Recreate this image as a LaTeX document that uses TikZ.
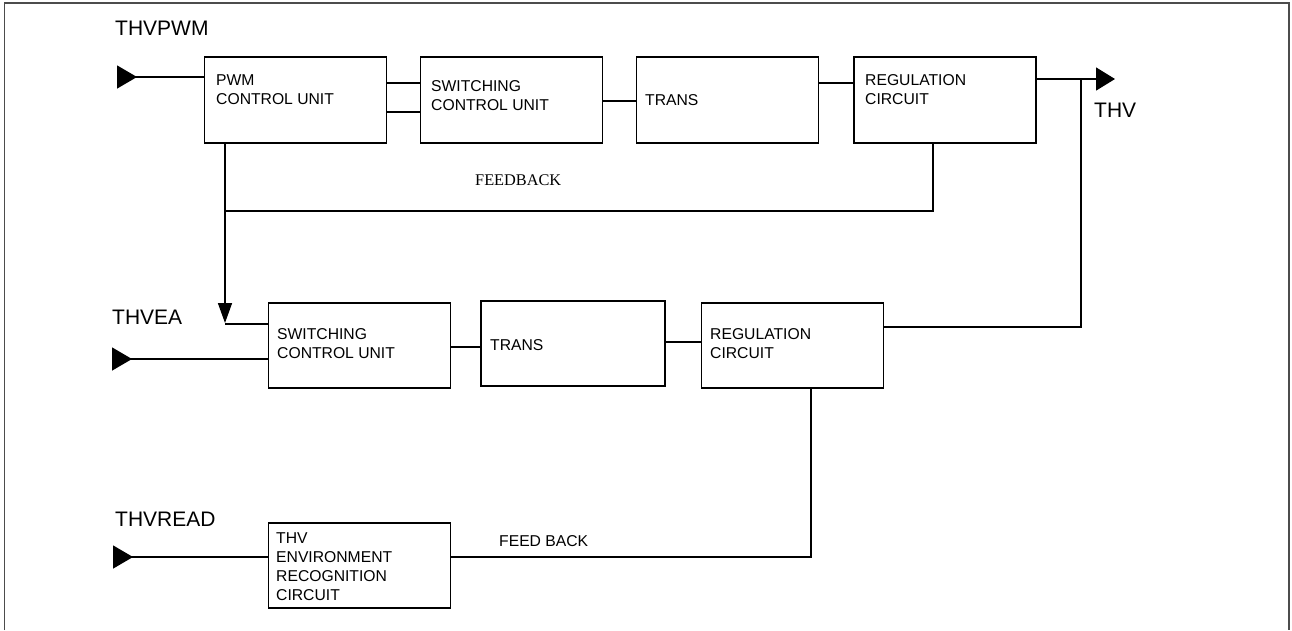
\documentclass[tikz,border=0pt]{standalone}
\usepackage{fontspec}
\setmainfont{Liberation Sans}
\newfontfamily\serifrm{Liberation Serif}
\usetikzlibrary{arrows.meta,
                calc,
                positioning}

\begin{document}
\begin{tikzpicture}[
        x=1pt, y=-1pt,
        block/.style={rectangle, draw=black, line width=1.5pt, minimum width=182pt, minimum height=86pt, inner sep=0pt},
        txt/.style={anchor=north west, inner sep=0pt, align=left, font=\fontsize{15.7}{19}\selectfont},
        sig/.style={anchor=north west, inner sep=0pt, font=\fontsize{21}{25}\selectfont},
        wire/.style={draw=black, line width=1.5pt},
        inarrow/.style={wire, {Triangle[reversed, length=20pt, width=23pt]}-},
        outarrow/.style={wire, -{Triangle[length=19pt, width=23pt]}},
        downarrow/.style={wire, -{Triangle[length=20pt, width=14pt]}}
        ]
        \useasboundingbox (0,0) rectangle (1292,630);
        % frame
        \draw [gray!60!black, line width=1.3pt] (4.5,630) -- (4.5,3) -- (1289,3) -- (1289,630);

        % upper chain
        \node (node1) [block] at (295.5,100)  {};
        \node (node2) [block] at (511.5,100)  {};
        \node (node3) [block] at (727.5,100)  {};
        \node (node4) [block] at (945,100)    {};
        % lower chain
        \node (node5) [block, minimum height=85pt] at (359.5,345.5) {};
        \node (node6) [block, minimum height=85pt, minimum width=184pt] at (573,343.5) {};
        \node (node7) [block, minimum height=85pt] at (792.5,345.5) {};
        \node (node8) [block, minimum height=85pt] at (359.5,565.5) {};

        \node (node1t) [txt] at (216,74)  {PWM\\CONTROL UNIT};
        \node (node2t) [txt] at (431,80)  {SWITCHING\\CONTROL UNIT};
        \node (node3t) [txt] at (645,94)  {TRANS};
        \node (node4t) [txt] at (865,74)  {REGULATION\\CIRCUIT};
        \node (node5t) [txt] at (277,328) {SWITCHING\\CONTROL UNIT};
        \node (node6t) [txt] at (490,339) {TRANS};
        \node (node7t) [txt] at (710,328) {REGULATION\\CIRCUIT};
        \node (node8t) [txt] at (276,532) {THV\\ENVIRONMENT\\RECOGNITION\\CIRCUIT};

        \node (thvpwm)  [sig] at (115,21)   {THVPWM};
        \node (thvout)  [sig] at (1094,103) {THV};
        \node (thvea)   [sig] at (112,310)  {THVEA};
        \node (thvread) [sig] at (115,512)  {THVREAD};
        \node (fb1) [anchor=north west, inner sep=0pt, font=\serifrm\fontsize{16.3}{19}\selectfont] at (475,175) {FEEDBACK};
        \node (fb2) [txt] at (499,535) {FEED BACK};

        \coordinate (in1)  at (117,77);
        \coordinate (in2)  at (112,359);
        \coordinate (in3)  at (113,557);
        \coordinate (thv)  at (1115,79);
        \coordinate (jn)   at (1081,79);
        \coordinate (fbr)  at (933,211);
        \coordinate (fbl)  at (225,211);
        \coordinate (tip)  at (225,323);
        \coordinate (back) at (811,557);

        % inputs
        \draw [inarrow] (in1) -- (in1 -| node1.west);
        \draw [inarrow] (in2) -- (in2 -| node5.west);
        \draw [inarrow] (in3) -- (in3 -| node8.west);

        % upper links
        \draw [wire] (node1.east |- 0,83)  -- (node2.west |- 0,83);
        \draw [wire] (node1.east |- 0,112) -- (node2.west |- 0,112);
        \draw [wire] (node2.east |- 0,101) -- (node3.west |- 0,101);
        \draw [wire] (node3.east |- 0,83)  -- (node4.west |- 0,83);
        \draw [outarrow] (node4.east |- thv) -- (thv);

        % feedback of upper chain
        \draw [wire] (node4.south -| fbr) -- (fbr) -- (fbl);
        \draw [downarrow] (node1.south -| fbl) -- (tip);
        \draw [wire] ([yshift=-1pt]tip) -- ([yshift=-1pt]tip -| node5.west);

        % lower links
        \draw [wire] (node5.east |- 0,347) -- (node6.west |- 0,347);
        \draw [wire] (node6.east |- 0,342) -- (node7.west |- 0,342);
        \draw [wire] (node7.east |- 0,327) -- (jn |- 0,327) -- (jn);
        \draw [wire] (node7.south -| back) -- (back) -- (node8.east |- back);

    \end{tikzpicture}
\end{document}
